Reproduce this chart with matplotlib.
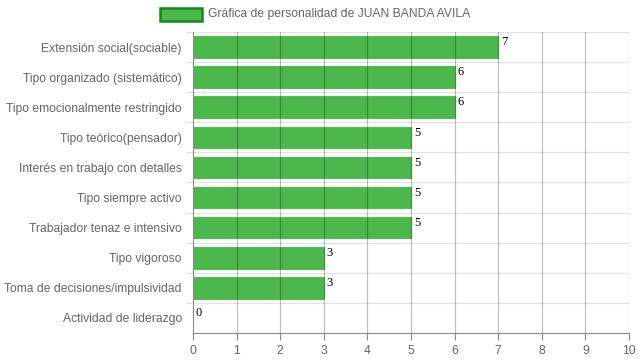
import numpy as np
import matplotlib.pyplot as plt
from matplotlib.patches import Rectangle

plt.rcParams['font.family'] = ['Liberation Sans', 'DejaVu Sans']

# data
categorias = ['Extensión social(sociable)', 'Tipo organizado (sistemático)',
              'Tipo emocionalmente restringido', 'Tipo teórico(pensador)',
              'Interés en trabajo con detalles', 'Tipo siempre activo',
              'Trabajador tenaz e intensivo', 'Tipo vigoroso',
              'Toma de decisiones/impulsividad', 'Actividad de liderazgo']
valores = [7, 6, 6, 5, 5, 5, 5, 3, 3, 0]
titulo_leyenda = 'Gráfica de personalidad de JUAN BANDA AVILA'

fig = plt.figure(figsize=(6.39, 3.6), dpi=100)
ax = fig.add_axes([193 / 639, 1 - 333 / 360, 436 / 639, 301 / 360])

pos = np.arange(len(categorias))
ax.barh(pos, valores, height=0.72, color='#4cb84c', edgecolor='#55bc55',
        linewidth=0.8, zorder=2)

ax.set_xlim(0, 10)
ax.set_ylim(len(categorias) - 0.5, -0.5)
ax.set_xticks(range(0, 11))
ax.set_yticks(pos)
ax.set_yticklabels(categorias)

# grid: vertical at ticks (over bars), horizontal between rows
for x in range(1, 11):
    ax.axvline(x, color='#000000', alpha=0.25, linewidth=0.9, zorder=3)
for y in np.arange(-0.5, len(categorias) - 0.5, 1):
    ax.axhline(y, color='#e2e2e2', linewidth=0.9, zorder=1)

for s in ['top', 'right']:
    ax.spines[s].set_visible(False)
ax.spines['left'].set_color('#8a8a8a')
ax.spines['bottom'].set_color('#8a8a8a')
ax.tick_params(axis='both', colors='#8a8a8a', labelcolor='#666666',
               labelsize=8.7, length=5)
ax.tick_params(axis='y', length=0, pad=8)
# row separator ticks on the left
for y in np.arange(-0.5, len(categorias) - 0.5, 1):
    ax.plot([-0.16, 0], [y, y], color='#e2e2e2', linewidth=0.9,
            clip_on=False, zorder=1)

for p, v in zip(pos, valores):
    ax.annotate(str(v), (v, p - 0.36), xytext=(2, 0), textcoords='offset points',
                ha='left', va='top', fontsize=9, family='Liberation Serif',
                color='black', zorder=4)

# legend
fig.patches.append(Rectangle((160 / 639, 1 - 21 / 360), 42 / 639, 13 / 360,
                             transform=fig.transFigure, facecolor='#4cb84c',
                             edgecolor='#138a13', linewidth=1.8))
fig.text(208 / 639, 1 - 14.5 / 360, titulo_leyenda, ha='left', va='center',
         fontsize=8.7, color='#666666')

fig.savefig('out.png', dpi=100)
